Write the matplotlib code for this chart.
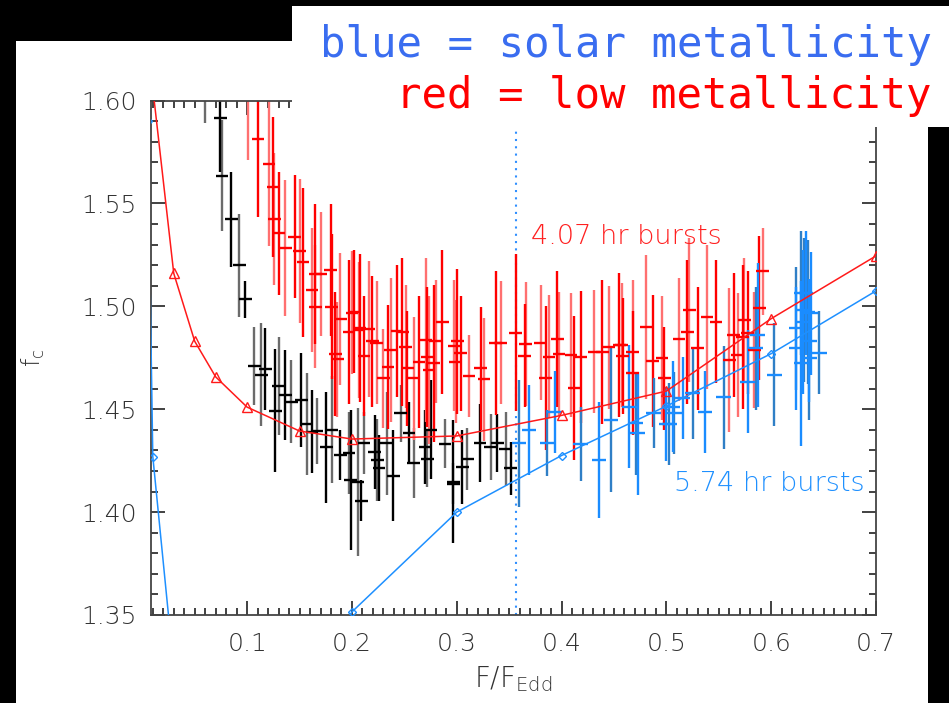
import numpy as np
import matplotlib
matplotlib.use("Agg")
import matplotlib.pyplot as plt
from matplotlib.patches import Rectangle
from matplotlib.ticker import MultipleLocator, FormatStrFormatter

# model curves (markers)
red_model_x = [0.01, 0.03, 0.05, 0.07, 0.10, 0.15, 0.20, 0.30, 0.40, 0.50, 0.60, 0.70]
red_model_y = [1.606, 1.516, 1.483, 1.4657, 1.451, 1.4394, 1.4355, 1.437, 1.447, 1.4588, 1.494, 1.5245]
blue_model_x = [0.005, 0.01, 0.03, 0.05, 0.07, 0.10, 0.15, 0.20, 0.30, 0.40, 0.50, 0.60, 0.70]
blue_model_y = [1.59, 1.427, 1.324, 1.31, 1.305, 1.30, 1.31, 1.3515, 1.400, 1.4275, 1.4515, 1.477, 1.5075]

# observed bursts (black)
black_x = [0.060, 0.0745, 0.076, 0.085, 0.0926, 0.0984, 0.107, 0.1175, 0.1137, 0.127,
           0.130, 0.1366, 0.1423, 0.1516, 0.157, 0.162, 0.1668, 0.1757, 0.1805, 0.189,
           0.197, 0.1987, 0.2057, 0.209, 0.2113, 0.2216, 0.2242, 0.226, 0.233, 0.2395,
           0.2464, 0.2543, 0.259, 0.2697, 0.272, 0.275, 0.2888, 0.2968, 0.2968, 0.3053,
           0.310, 0.322, 0.3324, 0.3388, 0.3467, 0.3515]
black_y = [1.615, 1.5915, 1.5634, 1.5423, 1.520, 1.5035, 1.471, 1.4694, 1.4667, 1.4493,
           1.4613, 1.457, 1.4537, 1.4545, 1.4428, 1.4391, 1.4396, 1.4315, 1.440, 1.4278,
           1.4286, 1.4156, 1.4148, 1.4056, 1.4334, 1.4294, 1.4253, 1.4213, 1.4334, 1.4177,
           1.448, 1.4386, 1.424, 1.4315, 1.426, 1.440, 1.4332, 1.4148, 1.4137, 1.4218,
           1.4257, 1.4337, 1.4315, 1.4337, 1.4305, 1.4213]
black_err = [0.026, 0.026, 0.027, 0.023, 0.025, 0.009, 0.019, 0.020, 0.025, 0.030,
             0.024, 0.022, 0.020, 0.023, 0.025, 0.020, 0.016, 0.027, 0.026, 0.012,
             0.020, 0.034, 0.036, 0.010, 0.015, 0.018, 0.020, 0.016, 0.025, 0.022,
             0.014, 0.015, 0.017, 0.018, 0.014, 0.024, 0.012, 0.030, 0.010, 0.018,
             0.015, 0.019, 0.016, 0.014, 0.018, 0.013]

# low metallicity (red)
red_x = [0.101, 0.1105, 0.1207, 0.1248, 0.126, 0.1302, 0.1366, 0.1452, 0.150, 0.1535,
         0.162, 0.165, 0.170, 0.1796, 0.165, 0.1805, 0.189, 0.1843, 0.186, 0.197,
         0.200, 0.2076, 0.2162, 0.2113, 0.2235, 0.2194, 0.2299, 0.2343, 0.237, 0.248,
         0.2512, 0.2528, 0.2591, 0.2639, 0.2703, 0.2719, 0.2735, 0.2782, 0.2798, 0.2863,
         0.2973, 0.3006, 0.299, 0.3037, 0.3117, 0.3228, 0.326, 0.3372, 0.3419, 0.3563,
         0.3658, 0.3649, 0.3801, 0.3849, 0.3881, 0.3961, 0.3977, 0.412, 0.4088, 0.4183,
         0.431, 0.439, 0.4454, 0.455, 0.4572, 0.4582, 0.4677, 0.4677, 0.4804, 0.4868,
         0.4957, 0.498, 0.5122, 0.520, 0.5218, 0.5297, 0.5387, 0.5473, 0.560, 0.5641,
         0.568, 0.5727, 0.5743, 0.5775, 0.5839, 0.5887, 0.5919, 0.2018, 0.2066, 0.243]
red_y = [1.606, 1.5812, 1.5692, 1.558, 1.5423, 1.5355, 1.5282, 1.5339, 1.527, 1.5213,
         1.508, 1.5157, 1.5157, 1.5177, 1.4999, 1.4999, 1.4937, 1.4769, 1.4743, 1.4877,
         1.4969, 1.4893, 1.4889, 1.4759, 1.4824, 1.4829, 1.465, 1.4704, 1.4788, 1.4877,
         1.4804, 1.4699, 1.465, 1.4731, 1.4837, 1.4755, 1.4691, 1.4723, 1.4829, 1.4926,
         1.4809, 1.4829, 1.4731, 1.4772, 1.4663, 1.4699, 1.4645, 1.4824, 1.4824, 1.4872,
         1.4817, 1.4759, 1.4824, 1.465, 1.4755, 1.484, 1.4769, 1.4602, 1.4764, 1.4755,
         1.478, 1.478, 1.4801, 1.4812, 1.4812, 1.4759, 1.478, 1.4675, 1.4898, 1.4735,
         1.4748, 1.465, 1.484, 1.4877, 1.4983, 1.4796, 1.4947, 1.4926, 1.4739, 1.4861,
         1.4764, 1.4853, 1.4934, 1.4872, 1.4788, 1.4991, 1.517, 1.4974, 1.4885, 1.488]
red_err = [0.035, 0.038, 0.040, 0.034, 0.032, 0.030, 0.033, 0.030, 0.035, 0.036,
           0.030, 0.034, 0.030, 0.032, 0.030, 0.035, 0.032, 0.030, 0.028, 0.035,
           0.030, 0.036, 0.033, 0.029, 0.030, 0.032, 0.024, 0.030, 0.035, 0.036,
           0.030, 0.028, 0.030, 0.032, 0.040, 0.034, 0.036, 0.038, 0.030, 0.035,
           0.032, 0.035, 0.030, 0.028, 0.020, 0.030, 0.030, 0.035, 0.030, 0.038,
           0.030, 0.025, 0.028, 0.035, 0.030, 0.033, 0.030, 0.035, 0.030, 0.032,
           0.030, 0.035, 0.030, 0.035, 0.030, 0.028, 0.035, 0.030, 0.035, 0.032,
           0.030, 0.025, 0.030, 0.035, 0.035, 0.030, 0.035, 0.030, 0.035, 0.030,
           0.030, 0.035, 0.030, 0.030, 0.028, 0.035, 0.021, 0.030, 0.033, 0.032]

# solar metallicity (blue)
blue_x = [0.3594, 0.369, 0.3865, 0.3935, 0.4183, 0.4358, 0.447, 0.4645, 0.4709, 0.4725,
          0.4878, 0.4995, 0.5027, 0.5059, 0.5075, 0.5155, 0.525, 0.5368, 0.5546, 0.5775,
          0.5855, 0.587, 0.603, 0.6237, 0.6237, 0.6285, 0.6285, 0.630, 0.6316, 0.6332,
          0.6348, 0.6364, 0.6364, 0.638, 0.646]
blue_y = [1.4334, 1.440, 1.4337, 1.4488, 1.4332, 1.4253, 1.4448, 1.4512, 1.4432, 1.4383,
          1.448, 1.4428, 1.4428, 1.4512, 1.4483, 1.4553, 1.4577, 1.4488, 1.4558, 1.4634,
          1.4796, 1.4861, 1.4667, 1.4796, 1.4893, 1.4723, 1.5064, 1.4926, 1.4982, 1.5064,
          1.4974, 1.4833, 1.4748, 1.4966, 1.4775]
blue_err = [0.031, 0.022, 0.016, 0.020, 0.018, 0.028, 0.035, 0.030, 0.025, 0.030,
            0.017, 0.018, 0.020, 0.022, 0.020, 0.020, 0.022, 0.020, 0.025, 0.025,
            0.030, 0.035, 0.025, 0.030, 0.030, 0.040, 0.030, 0.035, 0.035, 0.030,
            0.035, 0.030, 0.030, 0.030, 0.020]

recur_x = 0.3566


def draw_set(ax, x, y, err, light, dark, xerr=0.006):
    x = np.array(x)
    y = np.array(y)
    err = np.array(err)
    for k, c in enumerate([light, dark]):
        sel = np.arange(len(x)) % 2 == k
        ax.errorbar(x[sel], y[sel], yerr=err[sel], fmt='none', ecolor=c,
                    elinewidth=1.7, capsize=0, zorder=2)
        ax.errorbar(x[sel], y[sel], xerr=xerr, fmt='none', ecolor=dark,
                    elinewidth=1.7, capsize=0, zorder=3)


fig = plt.figure(figsize=(9.49, 7.03), dpi=100, facecolor='black')
fig.add_artist(Rectangle((16 / 949, 0), (928 - 16) / 949, 1 - 41 / 703,
                         transform=fig.transFigure, facecolor='white',
                         edgecolor='none', zorder=-5))

ax = fig.add_axes([0.1588, 0.1252, 0.9231 - 0.1588, 0.857 - 0.1252])
ax.set_facecolor('white')

tfont = dict(family='DejaVu Sans', weight='light')

draw_set(ax, black_x, black_y, black_err, '#6b6b6b', '#000000')
draw_set(ax, red_x, red_y, red_err, '#ff7070', '#ff0000')
draw_set(ax, blue_x, blue_y, blue_err, '#2f7fc6', '#1a8cff', xerr=0.007)

ax.plot(red_model_x, red_model_y, color='#ff1a1a', lw=1.1, marker='^',
        ms=7.5, mfc='none', mec='#ff1a1a', mew=1.0, zorder=4)
ax.plot(blue_model_x, blue_model_y, color='#1e90ff', lw=1.1, marker='D',
        ms=4.5, mfc='none', mec='#1e90ff', mew=1.0, zorder=4)
ax.vlines(recur_x, 1.35, 1.586, colors='#2f8fff', linestyles=(0, (1, 2.5)),
          lw=1.5, zorder=1)

ax.text(0.3706, 1.5337, '4.07 hr bursts', color='#ff2020', fontsize=19.5,
        ha='left', va='center', **tfont)
ax.text(0.6896, 1.414, '5.74 hr bursts', color='#1e90ff', fontsize=19.5,
        ha='right', va='center', **tfont)

ax.set_xlim(0.008, 0.7)
ax.set_ylim(1.35, 1.60)
ax.xaxis.set_major_locator(MultipleLocator(0.1))
ax.xaxis.set_minor_locator(MultipleLocator(0.01))
ax.yaxis.set_major_locator(MultipleLocator(0.05))
ax.yaxis.set_minor_locator(MultipleLocator(0.01))
ax.xaxis.set_major_formatter(FormatStrFormatter('%.1f'))
ax.yaxis.set_major_formatter(FormatStrFormatter('%.2f'))
ax.tick_params(which='both', direction='in', top=True, right=True,
               color='#333333', width=1.3, labelsize=18, labelcolor='#333333')
ax.tick_params(which='major', length=10)
ax.tick_params(which='minor', length=5)
ax.tick_params(axis='y', pad=10)
ax.tick_params(axis='x', pad=12)
for lab in ax.get_xticklabels() + ax.get_yticklabels():
    lab.set_fontweight('light')
for s in ax.spines.values():
    s.set_color('#444444')
    s.set_linewidth(1.3)

ax.set_xlabel(r'F/F$_{\mathregular{Edd}}$', fontsize=20, color='#333333',
              labelpad=6, **tfont)
ax.set_ylabel(r'f$_{\mathregular{c}}$', fontsize=17, color='#333333', **tfont)
ax.yaxis.set_label_coords(-0.143, 0.5)

# legend box at top right
fig.add_artist(Rectangle((292 / 949, 1 - 127 / 703), 1 - 292 / 949, 121 / 703,
                         transform=fig.transFigure, facecolor='white',
                         edgecolor='none', zorder=10))
fig.text(932 / 949, 1 - 57 / 703, 'blue = solar metallicity', color='#3a6df0',
         fontsize=30.5, family='DejaVu Sans Mono', ha='right', va='baseline',
         zorder=11)
fig.text(932 / 949, 1 - 108 / 703, 'red = low metallicity', color='#ff0000',
         fontsize=30.5, family='DejaVu Sans Mono', ha='right', va='baseline',
         zorder=11)

fig.savefig('out.png', dpi=100, facecolor='black')
